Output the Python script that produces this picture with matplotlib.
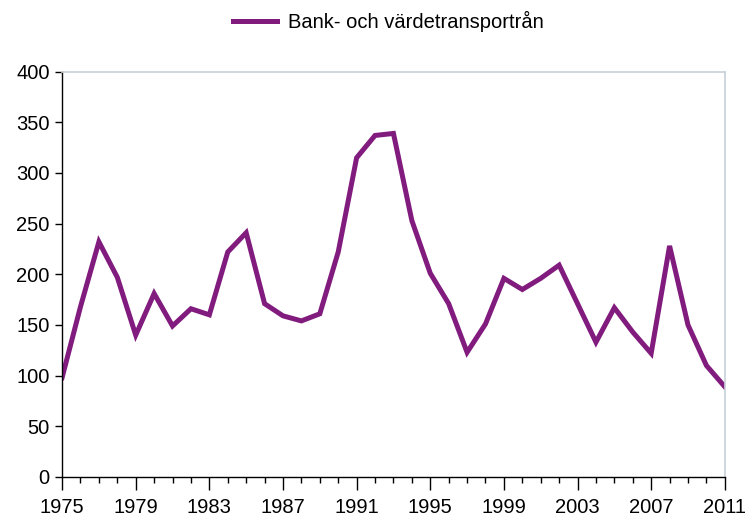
import matplotlib
matplotlib.use("Agg")
import matplotlib.pyplot as plt
from matplotlib.ticker import MultipleLocator

years = list(range(1975, 2012))
values = [98, 168, 232, 197, 140, 181, 149, 166, 160, 222, 241, 171, 159, 154, 161, 222,
          315, 337, 339, 253, 201, 171, 123, 151, 196, 185, 196, 209, 171, 133, 167, 143,
          122, 228, 150, 110, 89]
series_name = "Bank- och värdetransportrån"
xticks = list(range(1975, 2012, 4))
yticks = list(range(0, 401, 50))

plt.rcParams['font.family'] = ['Liberation Sans', 'DejaVu Sans']

fig = plt.figure(figsize=(7.48, 5.19), dpi=100)
ax = fig.add_axes([0.083, 0.081, 0.886, 0.781])
ax.plot(years, values, color="#811C7E", lw=3.6, solid_joinstyle="miter", label=series_name)

ax.set_xlim(1975, 2011)
ax.set_ylim(0, 400)
ax.set_xticks(xticks)
ax.xaxis.set_minor_locator(MultipleLocator(1))
ax.set_yticks(yticks)

for s in ["top", "right"]:
    ax.spines[s].set_color("#C8CFD8")
    ax.spines[s].set_linewidth(1.2)
ax.spines["left"].set_linewidth(1.0)
ax.spines["bottom"].set_linewidth(1.0)

ax.tick_params(axis="x", which="major", direction="out", length=9, width=1, labelsize=14.5, pad=6)
ax.tick_params(axis="x", which="minor", direction="out", length=4, width=1)
ax.tick_params(axis="y", which="major", direction="out", length=5, width=1, labelsize=14.5, pad=4)

fig.legend(loc="center", bbox_to_anchor=(0.519, 0.958), frameon=False, fontsize=14.5,
           handlelength=2.2, handletextpad=0.55)

fig.savefig("out.png", dpi=100)
